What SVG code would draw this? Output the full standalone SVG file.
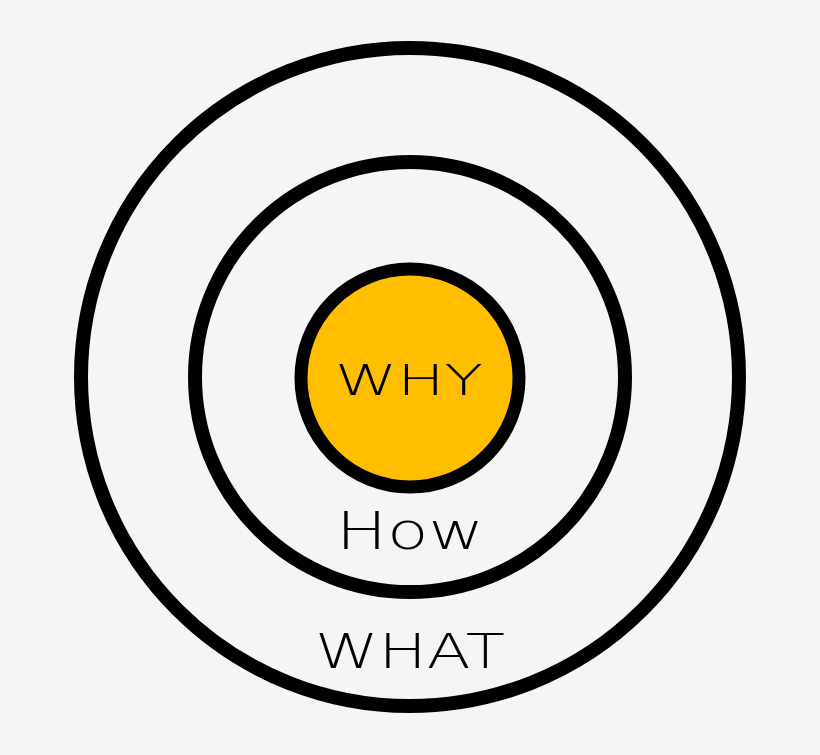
<svg xmlns="http://www.w3.org/2000/svg" width="820" height="755" viewBox="0 0 820 755">
<style>
.ring{fill:none;stroke:#000;stroke-width:14}
.lbl{font-family:"DejaVu Sans","Liberation Sans",sans-serif;font-weight:200;fill:#000;text-anchor:middle}
</style>
<rect width="820" height="755" fill="#f5f5f5"/>
<g id="what">
<circle class="ring" cx="410" cy="377" r="329"/>
<text class="lbl" x="410" y="668" font-size="48" textLength="190" lengthAdjust="spacingAndGlyphs">WHAT</text>
</g>
<g id="how">
<circle class="ring" cx="410" cy="377" r="215"/>
<text class="lbl" x="410" y="549" font-size="51" textLength="148" lengthAdjust="spacingAndGlyphs">How</text>
</g>
<g id="why">
<circle cx="410" cy="378" r="109" fill="#ffbf00" stroke="#000" stroke-width="13"/>
<text class="lbl" x="409" y="395" font-size="42" textLength="148" lengthAdjust="spacingAndGlyphs">WHY</text>
</g>
<g id="connectors"/>
</svg>
